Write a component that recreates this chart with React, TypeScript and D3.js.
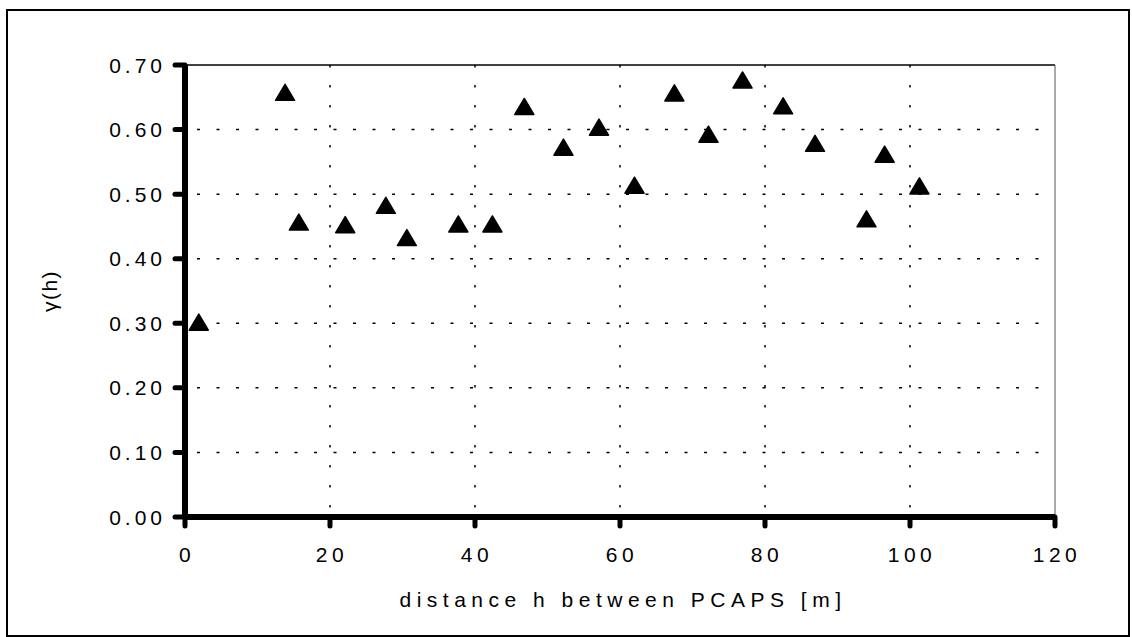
import React from "react";
import * as d3 from "d3";

const distances = [1.9, 13.8, 15.7, 22.1, 27.7, 30.6, 37.7, 42.4, 46.8, 52.2, 57.1, 62.0, 67.5, 72.2, 76.9, 82.5, 86.9, 94.0, 96.5, 101.3];
const gammaValues = [0.301, 0.657, 0.456, 0.452, 0.482, 0.432, 0.453, 0.453, 0.635, 0.572, 0.603, 0.513, 0.656, 0.592, 0.676, 0.636, 0.578, 0.461, 0.561, 0.512];
const xTicks = [0, 20, 40, 60, 80, 100, 120];
const yTicks = [0, 0.1, 0.2, 0.3, 0.4, 0.5, 0.6, 0.7];
const xTitle = "distance h between PCAPS [m]";
const yTitle = "γ(h)";

const W = 1132;
const H = 637;
const L = 185, R = 1055, T = 65, B = 517;
const FONT = "'Liberation Sans', Arial, Helvetica, sans-serif";

export default function App() {
  const x = d3.scaleLinear().domain([0, 120]).range([L, R]);
  const y = d3.scaleLinear().domain([0, 0.7]).range([B, T]);
  const fmt = d3.format(".2f");

  return (
    <svg width={W} height={H} style={{ position: "absolute", left: 0, top: 0, background: "#fff" }}>
      {/* outer frame */}
      <rect x={7} y={10} width={1122} height={626} fill="none" stroke="#000" strokeWidth={2} />

      {/* gridlines */}
      {yTicks.filter(t => t > 0 && t < 0.7).map(t => (
        <line key={"gy" + t} x1={L + 12} x2={R} y1={y(t)} y2={y(t)} stroke="#000" strokeWidth={1.5} strokeDasharray="3 16.5" />
      ))}
      {xTicks.filter(t => t > 0 && t < 120).map(t => (
        <line key={"gx" + t} x1={x(t)} x2={x(t)} y1={T} y2={B} stroke="#000" strokeWidth={1.5} strokeDasharray="2.5 17.5" />
      ))}

      {/* plot frame top & right */}
      <line x1={L} x2={R} y1={T} y2={T} stroke="#000" strokeWidth={1.5} />
      <line x1={R} x2={R} y1={T} y2={B} stroke="#555" strokeWidth={1} />

      {/* axes */}
      <line x1={L} x2={R} y1={B} y2={B} stroke="#000" strokeWidth={6} />
      <line x1={L} x2={L} y1={T} y2={B} stroke="#000" strokeWidth={6} />

      {/* ticks */}
      {yTicks.map(t => (
        <line key={"ty" + t} x1={L - 10} x2={L} y1={y(t)} y2={y(t)} stroke="#000" strokeWidth={5} strokeLinecap="round" />
      ))}
      {xTicks.map(t => (
        <line key={"tx" + t} x1={x(t)} x2={x(t)} y1={B} y2={B + 9} stroke="#000" strokeWidth={5} strokeLinecap="round" />
      ))}

      {/* tick labels */}
      {yTicks.map(t => (
        <text key={"ly" + t} x={166} y={y(t)} dy="0.36em" textAnchor="end" fontFamily={FONT} fontSize={21} letterSpacing={4} fill="#000">
          {fmt(t)}
        </text>
      ))}
      {xTicks.map(t => (
        <text key={"lx" + t} x={x(t) + 2} y={554} dy="0.36em" textAnchor="middle" fontFamily={FONT} fontSize={21} letterSpacing={4.5} fill="#000">
          {t}
        </text>
      ))}

      {/* axis titles */}
      <text x={(L + R) / 2 + 3} y={599} dy="0.36em" textAnchor="middle" fontFamily={FONT} fontSize={21} letterSpacing={5.5} fill="#000">
        {xTitle}
      </text>
      <text transform={`translate(49, ${(T + B) / 2}) rotate(-90)`} textAnchor="middle" dy="0.36em" fontFamily={FONT} fontSize={21} letterSpacing={1.5} fill="#000">
        {yTitle}
      </text>

      {/* markers */}
      {distances.map((d, i) => {
        const cx = x(d);
        const cy = y(gammaValues[i]);
        const p = d3.path();
        p.moveTo(cx, cy - 8.5);
        p.lineTo(cx + 9.5, cy + 7.5);
        p.lineTo(cx - 9.5, cy + 7.5);
        p.closePath();
        return <path key={"m" + i} d={p.toString()} fill="#000" stroke="#000" strokeWidth={1.5} strokeLinejoin="round" />;
      })}
    </svg>
  );
}
